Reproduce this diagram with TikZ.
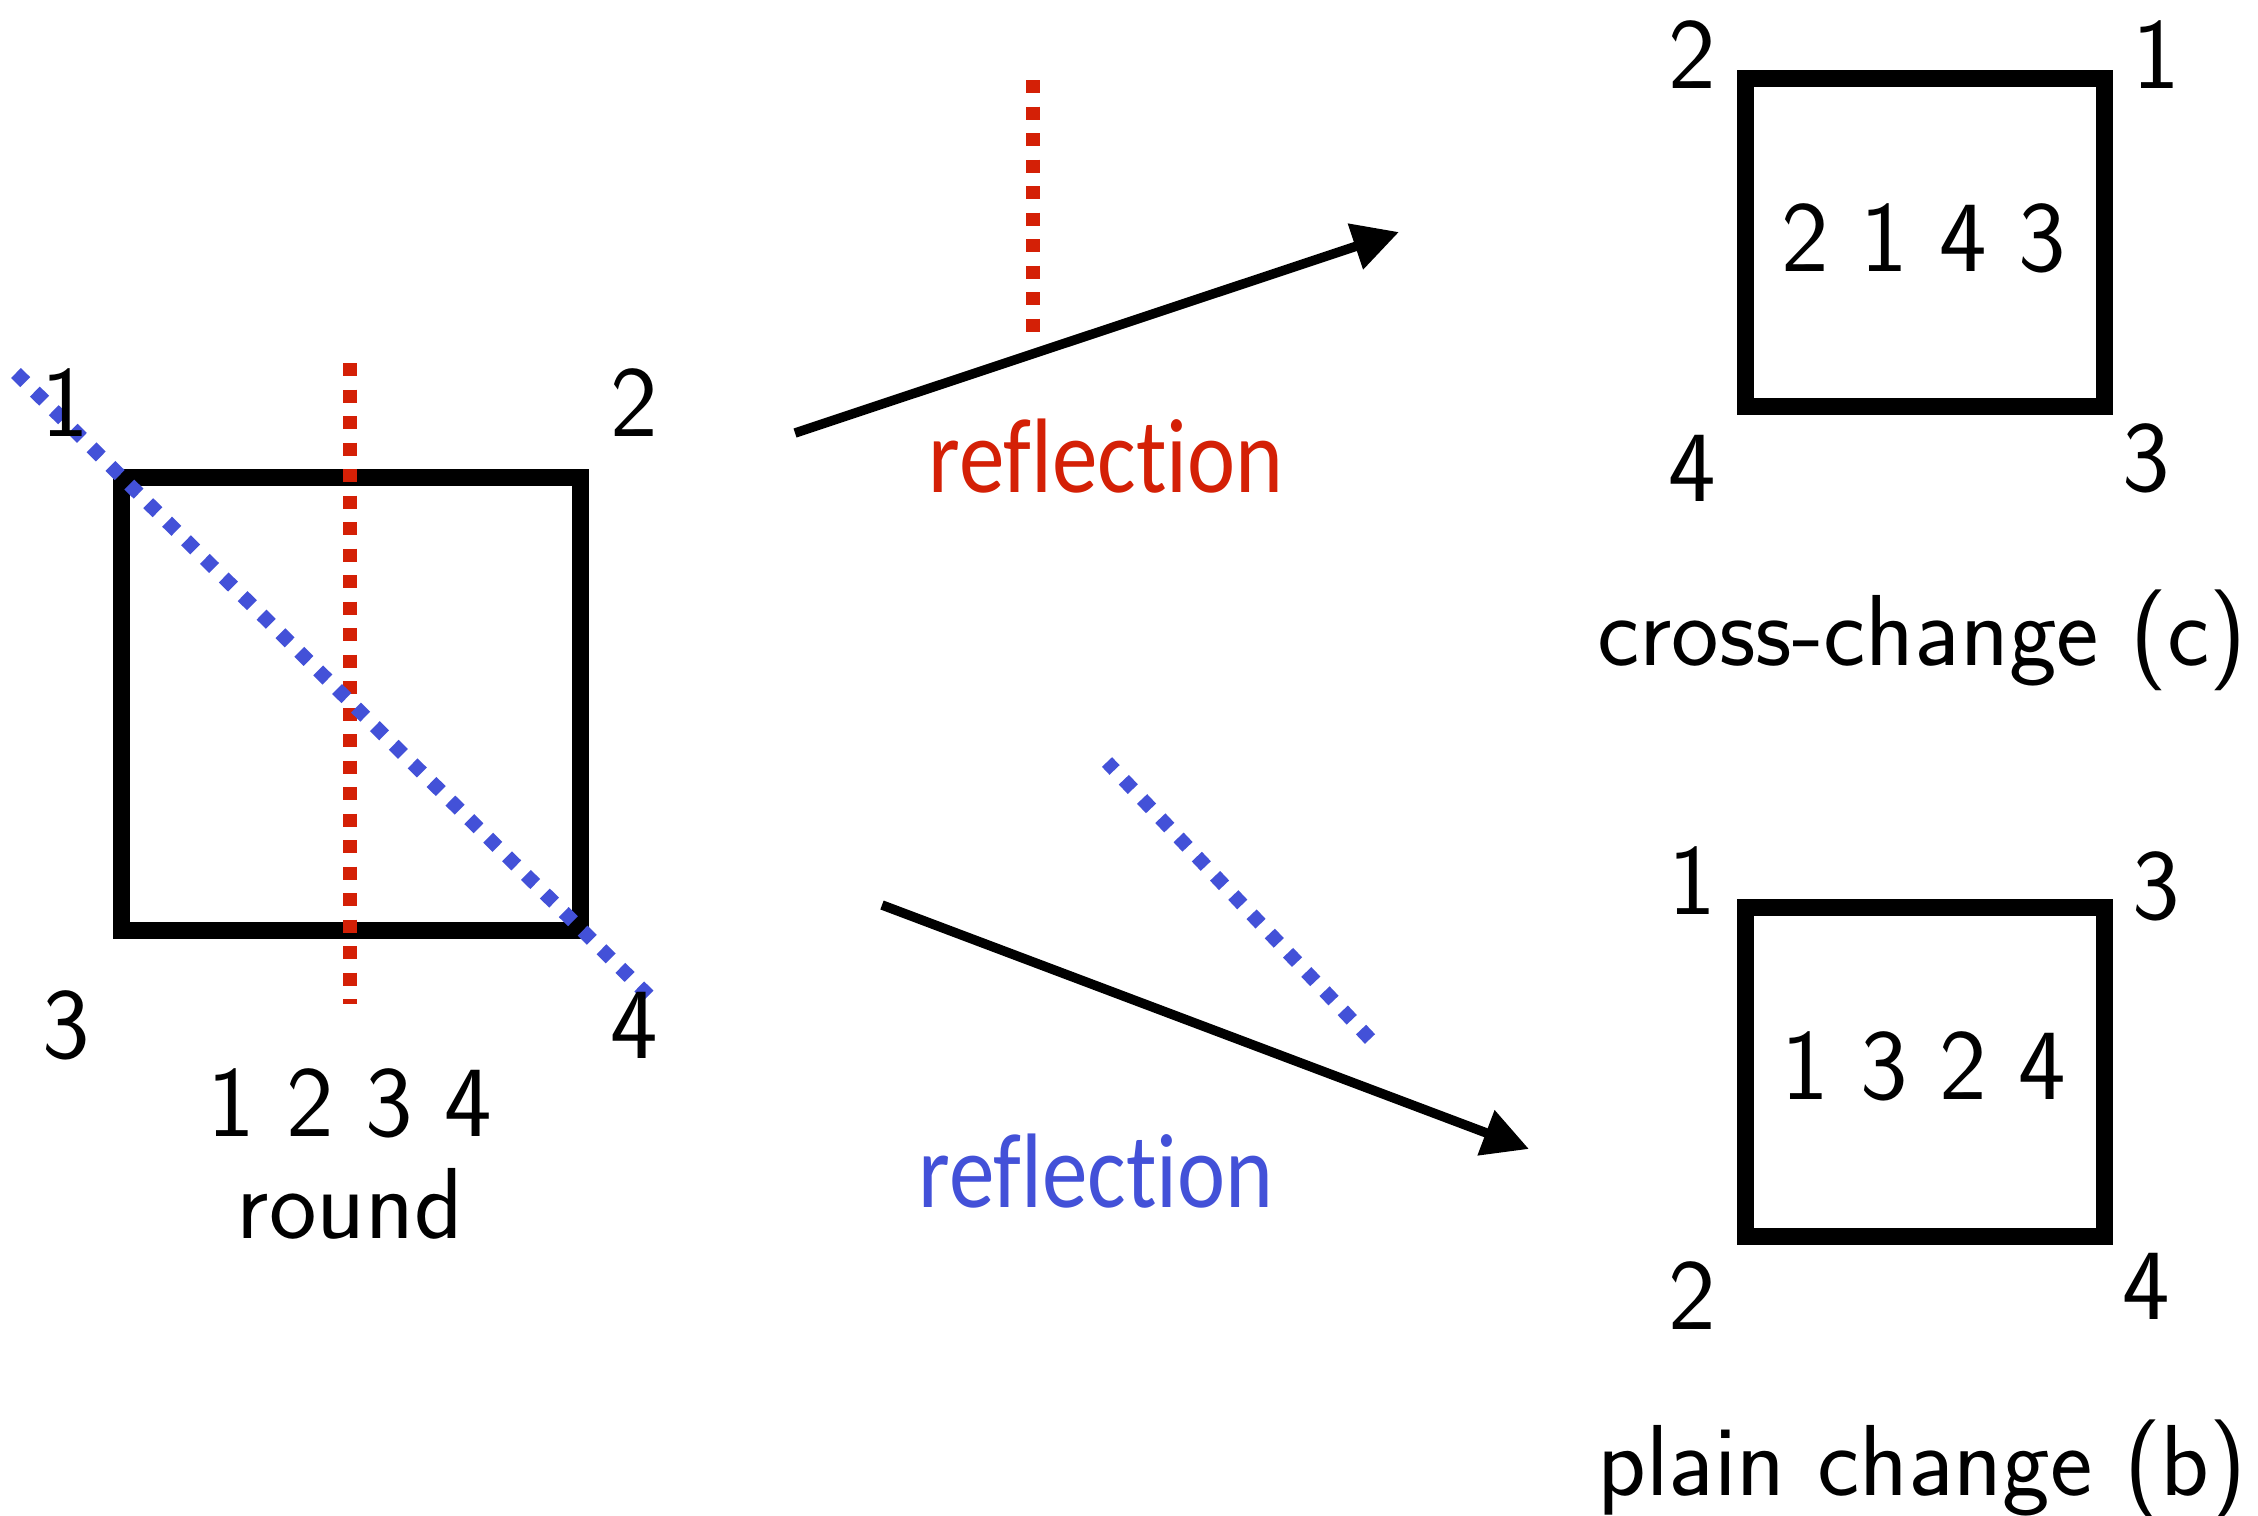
\documentclass[tikz,border=0pt]{standalone}
\usepackage{fontspec}
\newfontfamily\reffont[FakeStretch=0.86,Ligatures={NoCommon,NoRare,NoContextual}]{Carlito}
\usetikzlibrary{arrows.meta}
\definecolor{refred}{RGB}{212,32,6}
\definecolor{refblue}{RGB}{67,81,216}
\begin{document}
\begin{tikzpicture}[x=1pt,y=-1pt,
  num/.style={font=\fontsize{101}{101}\selectfont\sffamily, inner sep=0pt},
  captext/.style={font=\fontsize{101}{101}\selectfont\sffamily, inner sep=0pt, anchor=base},
  reftext/.style={font=\fontsize{106}{106}\selectfont\reffont, inner sep=0pt, anchor=base},
  box/.style={draw=black, line width=17pt, inner sep=0pt, outer sep=0pt},
  reddots/.style={draw=refred, line width=14pt, dash pattern=on 13pt off 13.5pt},
  bluedots/.style={draw=refblue, line width=14pt, dash pattern=on 13pt off 13.5pt},
  conn/.style={draw=black, line width=9.5pt, -{Triangle[length=46pt,width=46pt]}}
]
\fill[white] (0,0) rectangle (2258,1515);
\useasboundingbox (0,0) rectangle (2258,1515);

% left square (round)
\node[box, minimum width=459pt, minimum height=453pt] (sqL) at (350.5,703.5) {};
\coordinate (rLt) at (350,363);
\coordinate (rLb) at (350,1004);
\coordinate (bLt) at (16,373);
\coordinate (bLb) at (651,998);
\path[reddots] (rLt) -- (rLb);
\path[bluedots] (bLt) -- (bLb);
\node[num] (l1) at (65,403) {1};
\node[num] (l2) at (634,403) {2};
\node[num] (l3) at (66,1025) {3};
\node[num] (l4) at (634,1025) {4};
\node[num] (lseq) at (350,1103) {1 2 3 4};
\node[captext] (lcap) at (350,1238) {round};

% upper right square (cross-change)
\node[box, minimum width=359pt, minimum height=328pt] (sqU) at (1924.5,242) {};
\node[num] (u2) at (1692,55) {2};
\node[num] (u1) at (2156,55) {1};
\node[num] (u4) at (1692,468) {4};
\node[num] (u3) at (2146,458) {3};
\node[num] (useq) at (1924,238) {2 1 4 3};
\node[captext] (ucap) at (1922,665) {cross-change (c)};

% lower right square (plain change)
\node[box, minimum width=359pt, minimum height=329pt] (sqD) at (1924.5,1071.5) {};
\node[num] (d1) at (1692,881) {1};
\node[num] (d3) at (2156,886) {3};
\node[num] (d2) at (1692,1296) {2};
\node[num] (d4) at (2146,1286) {4};
\node[num] (dseq) at (1924,1066) {1 3 2 4};
\node[captext] (dcap) at (1922,1495) {plain change (b)};

% upper arrow with red reflection
\coordinate (ua0) at (795,433);
\coordinate (ua1) at (1399,232);
\path[conn] (ua0) -- (ua1);
\coordinate (rUt) at (1033,80);
\coordinate (rUb) at (1033,332);
\path[reddots] (rUt) -- (rUb);
\node[reftext, text=refred] (rtext) at (1106,492) {reflection};

% lower arrow with blue reflection
\coordinate (da0) at (882,905);
\coordinate (da1) at (1529,1149);
\path[conn] (da0) -- (da1);
\coordinate (bDt) at (1107,762);
\coordinate (bDb) at (1370,1039);
\path[bluedots] (bDb) -- (bDt);
\node[reftext, text=refblue] (btext) at (1096,1207) {reflection};
\end{tikzpicture}
\end{document}
